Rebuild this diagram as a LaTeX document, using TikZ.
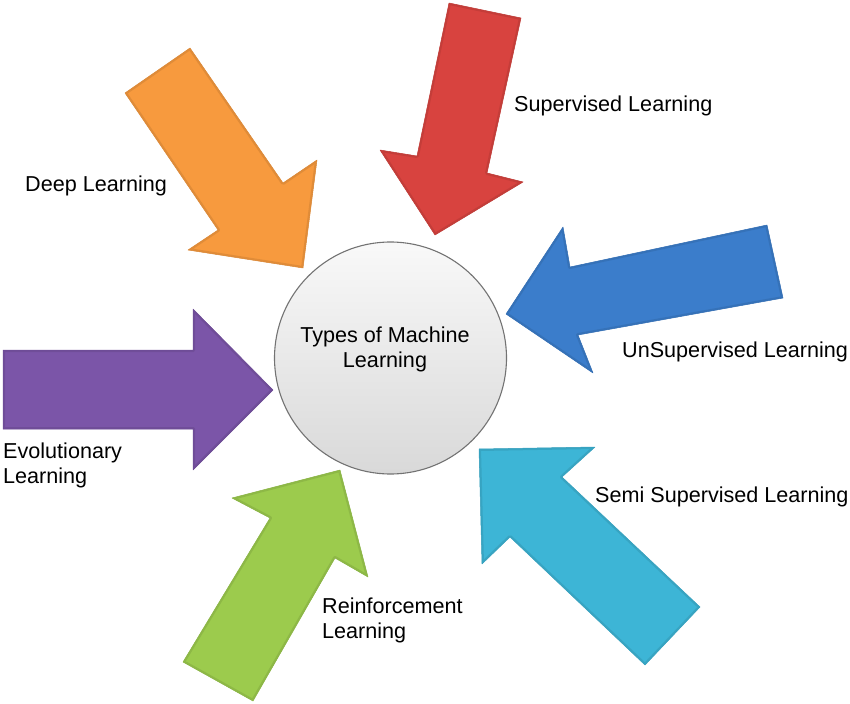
\documentclass[tikz,border=0pt]{standalone}
\usepackage{fontspec}
\setmainfont{Liberation Sans}
\definecolor{orangeA}{HTML}{F79A3E}
\definecolor{redA}{HTML}{D8433F}
\definecolor{blueA}{HTML}{3B7DCB}
\definecolor{cyanA}{HTML}{3DB5D6}
\definecolor{greenA}{HTML}{9CCB4D}
\definecolor{purpleA}{HTML}{7B55A8}
\newcommand\bArrow[2]{%
  \fill[#1] #2 -- cycle;
  \begin{scope}
    \clip #2 -- cycle;
    \draw[#1!75!black, line width=4pt, opacity=.35, line join=round] #2 -- cycle;
  \end{scope}
  \draw[#1!88!black, line width=.5pt, line join=round] #2 -- cycle;
}
\begin{document}
\begin{tikzpicture}[x=1pt,y=-1pt,
  lbl/.style={inner sep=0pt, font=\fontsize{21.6}{25}\selectfont, text=black},
  hub/.style={circle, minimum size=232pt, inner sep=0pt, draw=gray!90!black, line width=1.1pt, top color=gray!5, bottom color=gray!30}]
\useasboundingbox (0,0) rectangle (850,703);
% arrows
\bArrow{orangeA}{(125,93) -- (190,48) -- (283,183) -- (317,160) -- (303,268) -- (188,250) -- (218,230)}
\bArrow{redA}{(449,3) -- (521,18) -- (487,173) -- (523,182) -- (435,235) -- (380,150) -- (417,156)}
\bArrow{blueA}{(767,225) -- (783,298) -- (578,335) -- (593,373) -- (506,314) -- (563,227) -- (570,267)}
\bArrow{cyanA}{(700,607) -- (645,665) -- (510,537) -- (482,564) -- (479,449) -- (595,447) -- (562,477)}
\bArrow{greenA}{(253,701) -- (183,662) -- (270,518) -- (232,498) -- (340,470) -- (368,577) -- (335,558)}
\bArrow{purpleA}{(3,350) -- (193,350) -- (193,309) -- (273,390) -- (193,470) -- (193,429) -- (3,429)}
% hub
\node[hub] (hub) at (390.5,358) {};
\node[lbl, align=center, anchor=north] (hubtext) at (385,327) {Types of Machine\\Learning};
% labels
\node[lbl, anchor=base west] (deep) at (25,192) {Deep Learning};
\node[lbl, anchor=base west] (sup) at (514,112) {Supervised Learning};
\node[lbl, anchor=base west] (unsup) at (622,357) {UnSupervised Learning};
\node[lbl, anchor=base west] (semi) at (595,502) {Semi Supervised Learning};
\node[lbl, align=left, anchor=north west] (evo) at (3,443) {Evolutionary\\Learning};
\node[lbl, align=left, anchor=north west] (reinf) at (322,598) {Reinforcement\\Learning};
\end{tikzpicture}
\end{document}
